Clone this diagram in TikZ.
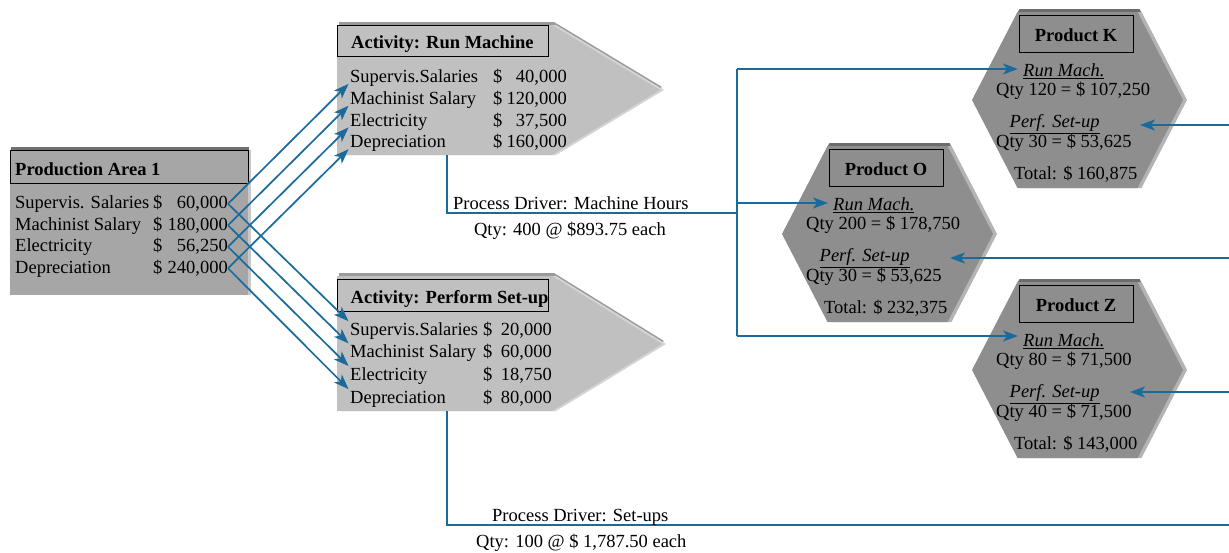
\documentclass[tikz,border=0pt]{standalone}
\usepackage{fontspec}
\setmainfont{Liberation Serif}
\usetikzlibrary{arrows.meta}
\definecolor{flowblue}{HTML}{1A6A9C}
\definecolor{prodfill}{HTML}{A6A6A6}
\definecolor{prodtop}{HTML}{707070}
\definecolor{prodside}{HTML}{C8C8C8}
\definecolor{actfill}{HTML}{C0C0C0}
\definecolor{acttop}{HTML}{9A9A9A}
\definecolor{actside}{HTML}{D4D4D4}
\definecolor{hexfill}{HTML}{8E8E8E}
\definecolor{hextop}{HTML}{6C6C6C}
\definecolor{hexside}{HTML}{B4B4B4}
\newcommand{\ulit}[1]{\leavevmode\vtop{\hbox{\textit{#1}}\kern1.6pt\hrule height 1.1pt}}
\newcommand{\hexpath}[4]{(#1-60+#3,#2-88+#4) -- (#1+60+#3,#2-88+#4) -- (#1+105.5+#3,#2+#4) -- (#1+60+#3,#2+88+#4) -- (#1-60+#3,#2+88+#4) -- (#1-105.5+#3,#2+#4) -- cycle}
\newcommand{\prodhex}[7]{%
  \fill[hextop] \hexpath{#1}{#2}{2}{-3};
  \fill[hexside] \hexpath{#1}{#2}{4}{0};
  \fill[hexfill] \hexpath{#1}{#2}{0}{0};
  \node[hdrbox, minimum width=114pt, minimum height=37pt, fill=hexfill] (#3box) at (#1-58.5,#2-85) {};
  \node[bld, anchor=base] (#3t) at (#1-1.5,#2-59) {#4};
  \node[txt, anchor=base west] (#3rm) at (#1-54.5,#2-24) {\ulit{Run Mach.}};
  \node[txt, anchor=base west] (#3q1) at (#1-81.5,#2-4.5) {#5};
  \node[txt, anchor=base west] (#3ps) at (#1-68,#2+27.5) {\ulit{Perf. Set-up}};
  \node[txt, anchor=base west] (#3q2) at (#1-81.5,#2+47) {#6};
  \node[txt, anchor=base west] (#3tot) at (#1-63.5,#2+79) {#7};
}
\begin{document}
\begin{tikzpicture}[x=1pt,y=-1pt,
  txt/.style={inner sep=0pt, font=\fontsize{18.5}{20}\selectfont},
  bld/.style={inner sep=0pt, font=\fontsize{18.5}{20}\selectfont\bfseries},
  hdrbox/.style={draw=black, line width=1.3pt, inner sep=0pt, anchor=north west},
  flow/.style={draw=flowblue, line width=1.7pt},
  arr/.style={flow, -{Stealth[length=15pt,width=11pt,inset=4pt]}},
]
\useasboundingbox (0,0) rectangle (1229,552);

% ---------- Production Area 1 ----------
\fill[prodtop] (11,147) rectangle (249,292);
\fill[prodside] (13,150) rectangle (251,295);
\fill[prodfill] (10,150) rectangle (248,295);
\node[hdrbox, minimum width=238pt, minimum height=33pt, fill=prodfill] (pah) at (10,150) {};
\node[bld, anchor=base west] (pat) at (15,175) {Production Area 1};
\node[txt, anchor=base west] (pa1) at (15,208.5) {Supervis. Salaries};
\node[txt, anchor=base west] (pa2) at (15,230) {Machinist Salary};
\node[txt, anchor=base west] (pa3) at (15,251.5) {Electricity};
\node[txt, anchor=base west] (pa4) at (15,273) {Depreciation};
\node[txt, anchor=base west] (pd1) at (153,208.5) {\$};
\node[txt, anchor=base west] (pd2) at (153,230) {\$};
\node[txt, anchor=base west] (pd3) at (153,251.5) {\$};
\node[txt, anchor=base west] (pd4) at (153,273) {\$};
\node[txt, anchor=base east] (pv1) at (228,208.5) {60,000};
\node[txt, anchor=base east] (pv2) at (228,230) {180,000};
\node[txt, anchor=base east] (pv3) at (228,251.5) {56,250};
\node[txt, anchor=base east] (pv4) at (228,273) {240,000};

% ---------- Activity: Run Machine ----------
\fill[acttop] (339,22) -- (554,22) -- (662,87) -- (554,152) -- (339,152) -- cycle;
\fill[actside] (341,25) -- (556,25) -- (664,90) -- (556,155) -- (341,155) -- cycle;
\fill[actfill] (337,25) -- (552,25) -- (660,90) -- (552,155) -- (337,155) -- cycle;
\node[hdrbox, minimum width=211pt, minimum height=31pt, fill=actfill] (rmh) at (337,25) {};
\node[bld, anchor=base west] (rmt) at (351,48.3) {Activity: Run Machine};
\node[txt, anchor=base west] (rml1) at (350,82.5) {Supervis.Salaries};
\node[txt, anchor=base west] (rml2) at (350,104.3) {Machinist Salary};
\node[txt, anchor=base west] (rml3) at (350,126) {Electricity};
\node[txt, anchor=base west] (rml4) at (350,147.8) {Depreciation};
\node[txt, anchor=base west] (rmd1) at (493,82.5) {\$};
\node[txt, anchor=base west] (rmd2) at (493,104.3) {\$};
\node[txt, anchor=base west] (rmd3) at (493,126) {\$};
\node[txt, anchor=base west] (rmd4) at (493,147.8) {\$};
\node[txt, anchor=base east] (rmv1) at (567,82.5) {40,000};
\node[txt, anchor=base east] (rmv2) at (567,104.3) {120,000};
\node[txt, anchor=base east] (rmv3) at (567,126) {37,500};
\node[txt, anchor=base east] (rmv4) at (567,147.8) {160,000};

% ---------- Activity: Perform Set-up ----------
\fill[acttop] (339,273) -- (554,273) -- (664,341) -- (554,408) -- (339,408) -- cycle;
\fill[actside] (341,276) -- (556,276) -- (666,344) -- (556,411) -- (341,411) -- cycle;
\fill[actfill] (337,276) -- (552,276) -- (662,344) -- (552,411) -- (337,411) -- cycle;
\node[hdrbox, minimum width=211pt, minimum height=32pt, fill=actfill] (psh) at (337,279) {};
\node[bld, anchor=base west] (pst) at (350.5,303.3) {Activity: Perform Set-up};
\node[txt, anchor=base west] (psl1) at (350,335.7) {Supervis.Salaries};
\node[txt, anchor=base west] (psl2) at (350,357.8) {Machinist Salary};
\node[txt, anchor=base west] (psl3) at (350,380.5) {Electricity};
\node[txt, anchor=base west] (psl4) at (350,403) {Depreciation};
\node[txt, anchor=base west] (psd1) at (483,335.7) {\$};
\node[txt, anchor=base west] (psd2) at (483,357.8) {\$};
\node[txt, anchor=base west] (psd3) at (483,380.5) {\$};
\node[txt, anchor=base west] (psd4) at (483,403) {\$};
\node[txt, anchor=base east] (psv1) at (552,335.7) {20,000};
\node[txt, anchor=base east] (psv2) at (552,357.8) {60,000};
\node[txt, anchor=base east] (psv3) at (552,380.5) {18,750};
\node[txt, anchor=base east] (psv4) at (552,403) {80,000};

% ---------- Products ----------
\prodhex{1077.5}{100}{k}{Product K}{Qty 120 = \$ 107,250}{Qty 30 = \$ 53,625}{Total: \$ 160,875}
\prodhex{887.5}{234}{o}{Product O}{Qty 200 = \$ 178,750}{Qty 30 = \$ 53,625}{Total: \$ 232,375}
\prodhex{1077.5}{370}{z}{Product Z}{Qty 80 = \$ 71,500}{Qty 40 = \$ 71,500}{Total: \$ 143,000}

% ---------- cost allocation arrows ----------
\foreach \i in {1,2,3,4}{
  \draw[arr, shorten >=2pt] (pv\i.east) -- (rml\i.base west);
  \draw[arr, shorten >=2pt] (pv\i.east) -- (psl\i.north west);
}

% ---------- driver: machine hours ----------
\coordinate (rmout) at (447,155);
\coordinate (mhj) at (737,213);
\coordinate (mhtop) at (737,69);
\coordinate (mhmid) at (737,203);
\coordinate (mhbot) at (737,336);
\draw[flow] (rmout) |- (mhj);
\draw[flow] (mhtop) -- (mhbot);
\draw[arr, shorten >=5pt] (mhtop) -- (mhtop -| krm.west);
\draw[arr, shorten >=5pt] (mhmid) -- (mhmid -| orm.west);
\draw[arr, shorten >=5pt] (mhbot) -- (mhbot -| zrm.west);
\node[txt, anchor=base west] (mhl) at (453,209) {Process Driver: Machine Hours};
\node[txt, anchor=base] (mhq) at (570,235) {Qty: 400 @ \$893.75 each};

% ---------- driver: set-ups ----------
\coordinate (psout) at (447,411);
\coordinate (suend) at (1229,525);
\draw[flow] (psout) |- (suend);
\node[txt, anchor=base west] (sul) at (492,521) {Process Driver: Set-ups};
\node[txt, anchor=base west] (suq) at (476,547) {Qty: 100 @ \$ 1,787.50 each};
\coordinate (kse) at (1229,125);
\coordinate (kin) at (1140,125);
\coordinate (ose) at (1229,258);
\coordinate (oin) at (950,258);
\coordinate (zse) at (1229,392);
\coordinate (zin) at (1130,392);
\draw[arr] (kse) -- (kin);
\draw[arr] (ose) -- (oin);
\draw[arr] (zse) -- (zin);
\end{tikzpicture}
\end{document}
